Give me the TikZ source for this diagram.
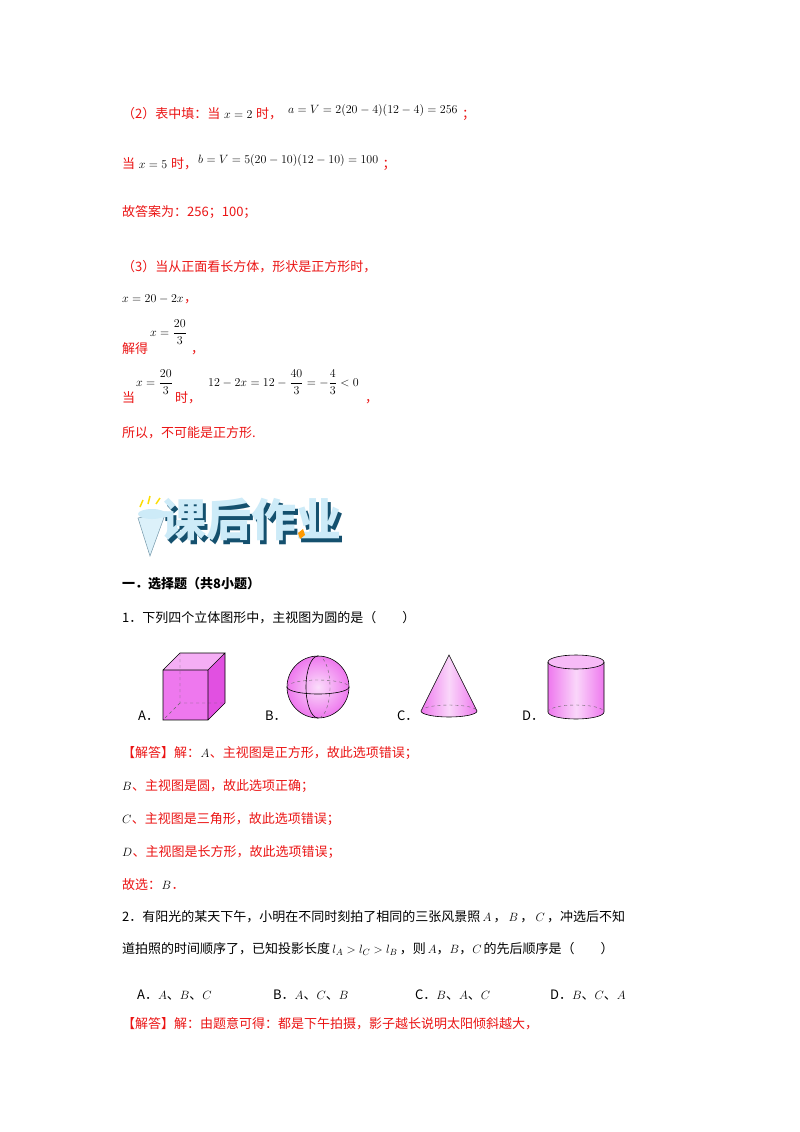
\documentclass[tikz,border=0pt]{standalone}
\usepackage{amsmath}
\usepackage{fontspec}
\setmainfont{Liberation Serif}
\newfontfamily\cjk{Noto Sans CJK SC}
\definecolor{ans}{RGB}{235,20,20}
\definecolor{mag}{RGB}{238,120,238}
\definecolor{magd}{RGB}{225,80,225}
\definecolor{teal}{RGB}{20,80,110}
\definecolor{pale}{RGB}{205,235,248}
\tikzset{t/.style={anchor=base west,inner sep=0pt,font=\fontsize{13}{15}\selectfont\cjk},
 r/.style={t,text=ans},
 m/.style={anchor=base west,inner sep=0pt,font=\fontsize{13}{15}\selectfont},
 solid3/.style={draw=black,line width=0.6pt},
 hid/.style={draw=black!60,dashed,line width=0.4pt}}
\begin{document}
\begin{tikzpicture}[x=1pt,y=-1pt]
\useasboundingbox[fill=white] (0,0) rectangle (800,1132);
% part (2)
\node[r] (l1) at (122,118) {（2）表中填：当};
\node[m] (l1m) at (l1.base east) {$\;x=2\;$};
\node[r] (l1b) at (l1m.base east) {时，};
\node[m] (l1c) at (288,113) {$a=V=2(20-4)(12-4)=256$};
\node[r,anchor=base west] (l1d) at ([xshift=4pt,yshift=-5pt]l1c.base east) {；};
\node[r] (l2) at (122,168) {当};
\node[m] (l2m) at (l2.base east) {$\;x=5\;$};
\node[r] (l2b) at (l2m.base east) {时，};
\node[m] (l2c) at (198,163) {$b=V=5(20-10)(12-10)=100$};
\node[r] (l2d) at ([xshift=4pt,yshift=-5pt]l2c.base east) {；};
\node[r] (l3) at (122,216) {故答案为：256；100；};
% part (3)
\node[r] (l4) at (122,271) {（3）当从正面看长方体，形状是正方形时，};
\node[m] (l5) at (122,302) {$x=20-2x$};
\node[r] (l5b) at (l5.base east) {，};
\node[r] (l6) at (122,353) {解得};
\node[m] (l6m) at (150,336) {$x=\dfrac{20}{3}$};
\node[r] (l6b) at ([xshift=4pt,yshift=-17pt]l6m.base east) {，};
\node[r] (l7) at (122,402) {当};
\node[m] (l7m) at (136,386) {$x=\dfrac{20}{3}$};
\node[r] (l7b) at ([xshift=2pt,yshift=-16pt]l7m.base east) {时，};
\node[m] (l7c) at (208,386) {$12-2x=12-\dfrac{40}{3}=-\dfrac{4}{3}<0$};
\node[r] (l7d) at ([xshift=6pt,yshift=-16pt]l7c.base east) {，};
\node[r] (l8) at (122,437) {所以，不可能是正方形.};
% banner
\fill[pale!70!white,draw=teal!60,line width=0.5pt] (138,518) -- (166,512) -- (150,556) -- cycle;
\fill[pale] (152,514) ellipse (14 and 5);
\draw[yellow!80!orange,line width=1.5pt] (140,507)--(143,500) (148,504)--(150,496) (156,504)--(160,498);
\node[anchor=west,inner sep=0pt,font=\fontsize{45}{45}\selectfont\cjk\bfseries,text=teal] (bs) at (164,523) {课后作业};
\node[anchor=west,inner sep=0pt,font=\fontsize{45}{45}\selectfont\cjk\bfseries,text=pale] (bn) at (161,519) {课后作业};
\fill[orange!80!yellow] (298,533) -- (303,529) -- (305,535) -- (300,539) -- cycle;
% question 1
\node[t,font=\fontsize{13}{15}\selectfont\cjk\bfseries] (h) at (122,588) {一．选择题（共8小题）};
\node[t] (q1) at (122,622) {1．下列四个立体图形中，主视图为圆的是（\qquad ）};
% labels
\node[t] (la) at (138,720) {A．};
\node[t] (lb) at (265,720) {B．};
\node[t] (lc) at (397,720) {C．};
\node[t] (ld) at (522,720) {D．};
% cube
\fill[mag] (163,670) rectangle (208,720);
\fill[magd] (208,720) -- (208,670) -- (225,653) -- (225,703) -- cycle;
\fill[mag!60] (163,670) -- (180,653) -- (225,653) -- (208,670) -- cycle;
\draw[hid] (180,653) -- (180,703) -- (225,703) (180,703) -- (163,720);
\draw[solid3] (163,670) rectangle (208,720) (163,670) -- (180,653) -- (225,653) -- (208,670) (225,653) -- (225,703) -- (208,720);
% sphere
\shade[inner color=mag!25,outer color=mag] (318,687) circle (31);
\draw[solid3] (318,687) circle (31);
\draw[solid3] (287,687) arc[start angle=180,end angle=0,x radius=31,y radius=7];
\draw[hid] (287,687) arc[start angle=180,end angle=360,x radius=31,y radius=7];
\draw[solid3] (318,656) arc[start angle=270,end angle=90,x radius=12,y radius=31];
\draw[hid] (318,656) arc[start angle=270,end angle=450,x radius=12,y radius=31];
% cone
\shade[left color=mag,right color=mag,middle color=mag!30] (449,655) -- (421,711) arc[start angle=180,end angle=0,x radius=28,y radius=6] -- cycle;
\draw[solid3] (449,655) -- (421,711) arc[start angle=180,end angle=0,x radius=28,y radius=6] -- cycle;
\draw[hid] (421,711) arc[start angle=180,end angle=360,x radius=28,y radius=6];
% cylinder
\shade[left color=mag,right color=mag,middle color=mag!30] (548,662) -- (548,712) arc[start angle=180,end angle=0,x radius=28,y radius=7] -- (604,662) -- cycle;
\fill[mag!50] (576,662) ellipse (28 and 7);
\draw[solid3] (576,662) ellipse (28 and 7);
\draw[solid3] (548,662) -- (548,712) arc[start angle=180,end angle=0,x radius=28,y radius=7] -- (604,662);
\draw[hid] (548,712) arc[start angle=180,end angle=360,x radius=28,y radius=7];
% answer 1
\node[r] (a1) at (122,757) {【解答】解：};
\node[m] (a1m) at (a1.base east) {$A$};
\node[r] (a1b) at (a1m.base east) {、主视图是正方形，故此选项错误；};
\node[m] (a2m) at (122,790) {$B$};
\node[r] (a2) at (a2m.base east) {、主视图是圆，故此选项正确；};
\node[m] (a3m) at (122,823) {$C$};
\node[r] (a3) at (a3m.base east) {、主视图是三角形，故此选项错误；};
\node[m] (a4m) at (122,856) {$D$};
\node[r] (a4) at (a4m.base east) {、主视图是长方形，故此选项错误；};
\node[r] (a5) at (122,889) {故选：};
\node[m] (a5m) at (a5.base east) {$B$};
\node[r] (a5b) at (a5m.base east) {．};
% question 2
\node[t] (q2) at (122,921) {2．有阳光的某天下午，小明在不同时刻拍了相同的三张风景照\,$A$\,，\,$B$\,，\,$C$\,，冲选后不知};
\node[t] (q2b) at (122,953) {道拍照的时间顺序了，已知投影长度\,$l_A>l_C>l_B$\,，则\,$A$，$B$，$C$\,的先后顺序是（\qquad ）};
\node[t] (o1) at (137,999) {A．$A$、$B$、$C$};
\node[t] (o2) at (273,999) {B．$A$、$C$、$B$};
\node[t] (o3) at (415,999) {C．$B$、$A$、$C$};
\node[t] (o4) at (550,999) {D．$B$、$C$、$A$};
\node[r] (a6) at (122,1028) {【解答】解：由题意可得：都是下午拍摄，影子越长说明太阳倾斜越大，};
\end{tikzpicture}
\end{document}
